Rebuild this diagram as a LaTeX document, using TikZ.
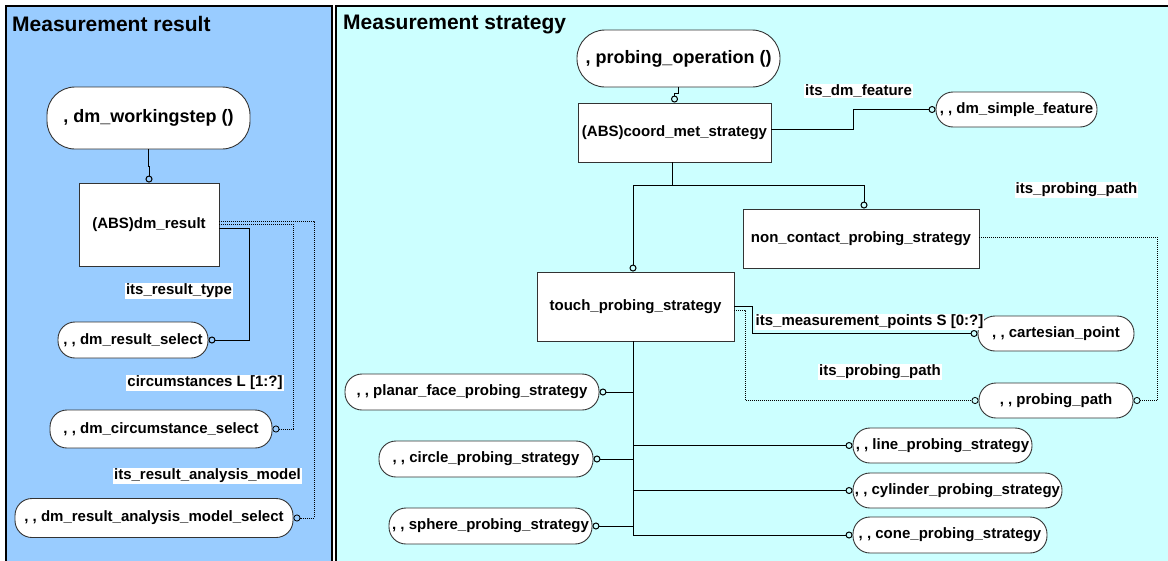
\documentclass[tikz,border=0pt]{standalone}
\usepackage{fontspec}
\setmainfont{Liberation Sans}
\usetikzlibrary{arrows.meta}

\definecolor{resultblue}{HTML}{99CCFF}
\definecolor{strategycyan}{HTML}{CCFFFF}

\begin{document}
\begin{tikzpicture}[x=1pt,y=-1pt,
  font=\bfseries\fontsize{15}{17}\selectfont,
  ent/.style={draw=black!80,fill=white,line width=.9pt,inner sep=0pt},
  pill/.style={ent,rounded corners=17pt,minimum height=36pt},
  bigpill/.style={ent,rounded corners=28pt,font=\bfseries\fontsize{18}{20}\selectfont},
  lbl/.style={fill=white,inner sep=1pt},
  rel/.style={line width=1pt,-{Circle[open,length=7pt]}},
  opt/.style={rel,densely dotted,line width=.8pt},
  paneltitle/.style={anchor=west,inner sep=0pt,font=\bfseries\fontsize{21}{24}\selectfont}]
  \useasboundingbox (0,0) rectangle (1168,560);
  \clip (0,0) rectangle (1168,560);

  % the two panels
  \filldraw[fill=resultblue,line width=2pt] (6,6) rectangle (331.5,575);
  \filldraw[fill=strategycyan,line width=2pt] (335.5,6) rectangle (1185,575);
  \node[paneltitle] (restitle) at (12,24) {Measurement result};
  \node[paneltitle] (strattitle) at (343,24) {Measurement strategy};

  % measurement result
  \node[bigpill,minimum width=203pt,minimum height=62pt] (ws) at (148.5,118) {, dm\_workingstep ()};
  \node[ent,minimum width=140pt,minimum height=83pt] (res) at (149,224.5) {(ABS)dm\_result};
  \node[pill,minimum width=150pt] (rsel) at (133,340) {, , dm\_result\_select};
  \node[pill,minimum width=222pt,minimum height=38pt] (csel) at (161,429) {, , dm\_circumstance\_select};
  \node[pill,minimum width=278pt,minimum height=39pt] (amsel) at (154,518) {, , dm\_result\_analysis\_model\_select};

  \draw[rel] (ws.south) -- ++(0,17) -| (res.north);
  \draw[rel] ([yshift=-3.5pt]res.east) -- ++(30,0) |- (rsel.east);
  \draw[opt] ([yshift=.5pt]res.east) -- ++(74,0) |- (csel.east);
  \draw[opt] ([yshift=3.5pt]res.east) -- ++(95,0) |- (amsel.east);

  \node[lbl] (ltype) at (179,291) {its\_result\_type};
  \node[lbl] (lcirc) at (205,383) {circumstances L [1:?]};
  \node[lbl] (lmodel) at (207.5,476) {its\_result\_analysis\_model};

  % measurement strategy
  \node[bigpill,minimum width=203pt,minimum height=57pt] (probop) at (678.5,58.5) {, probing\_operation ()};
  \node[ent,minimum width=193pt,minimum height=59pt] (coord) at (674.5,132.5) {(ABS)coord\_met\_strategy};
  \node[pill,minimum width=161pt,minimum height=35pt] (simple) at (1016.5,109.5) {, , dm\_simple\_feature};
  \node[ent,minimum width=236pt,minimum height=59pt] (nonc) at (861,238.5) {non\_contact\_probing\_strategy};
  \node[ent,minimum width=197pt,minimum height=69pt] (touch) at (635.5,306.5) {touch\_probing\_strategy};
  \node[pill,minimum width=156pt,minimum height=35pt] (cart) at (1056,333.5) {, , cartesian\_point};
  \node[pill,minimum width=154pt,minimum height=35pt] (ppath) at (1056,400.5) {, , probing\_path};

  \node[pill,minimum width=254pt] (planar) at (472,392) {, , planar\_face\_probing\_strategy};
  \node[pill,minimum width=214pt] (circ) at (486,459) {, , circle\_probing\_strategy};
  \node[pill,minimum width=203pt] (sph) at (490.5,526) {, , sphere\_probing\_strategy};
  \node[pill,minimum width=179pt,minimum height=35pt] (line) at (942.5,445.5) {, , line\_probing\_strategy};
  \node[pill,minimum width=209pt,minimum height=35pt] (cyl) at (957.5,490.5) {, , cylinder\_probing\_strategy};
  \node[pill,minimum width=194pt] (cone) at (950,535) {, , cone\_probing\_strategy};

  \draw[rel] (probop.south) -- ++(0,6) -| (coord.north);
  \draw[rel] ([yshift=3.5pt]coord.east) -- ++(82,0) |- (simple.west);
  \draw[rel] ([xshift=-2.5pt]coord.south) -- ++(0,23) -| ([xshift=-2.5pt]touch.north);
  \draw[rel] ([xshift=-2.5pt]coord.south) -- ++(0,23) -| ([xshift=3pt]nonc.north);
  \draw[opt] ([yshift=1.5pt]nonc.east) -- ++(178,0) |- (ppath.east);
  \draw[rel] ([yshift=.5pt]touch.east) -- ++(18,0) |- (cart.west);
  \draw[opt] ([yshift=-3.5pt]touch.east) -- ++(11,0) |- (ppath.west);
  \foreach \p/\side in {planar/east,circ/east,sph/east,line/west,cyl/west,cone/west}
    \draw[rel] ([xshift=-2.5pt]touch.south) |- (\p.\side);

  \node[lbl] (lfeat) at (858.5,91) {its\_dm\_feature};
  \node[lbl] (lpath) at (1076.5,190) {its\_probing\_path};
  \node[lbl] (lpoints) at (869.5,322) {its\_measurement\_points S [0:?]};
  \node[lbl] (lpath2) at (880,372) {its\_probing\_path};
\end{tikzpicture}
\end{document}
